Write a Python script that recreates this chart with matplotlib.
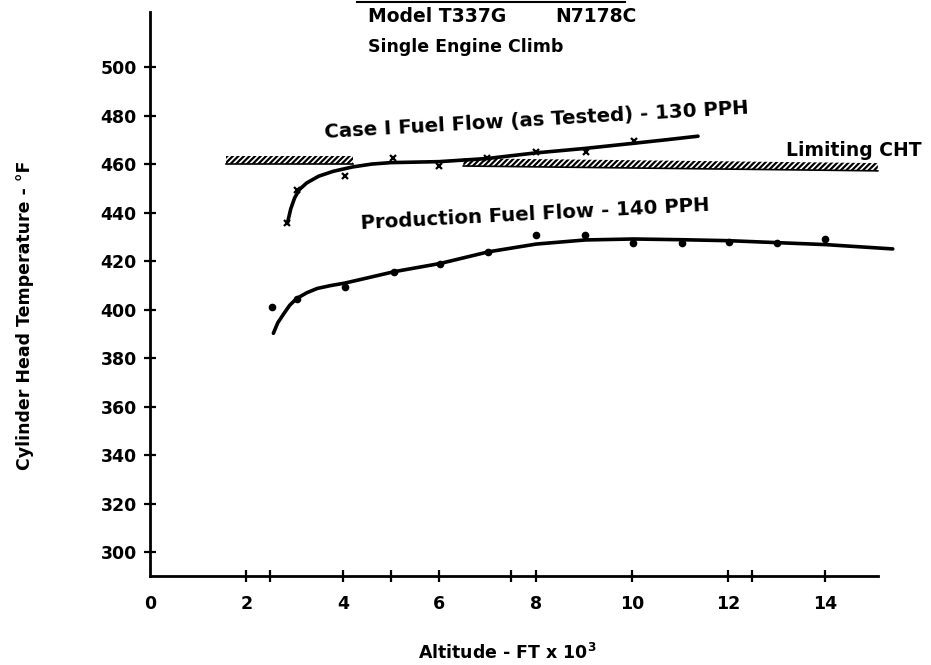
import matplotlib
matplotlib.use("Agg")
import matplotlib.pyplot as plt
import numpy as np

# Case I fuel flow (as tested) - 130 PPH, test points (x markers)
case1_alt = [2.85, 3.05, 4.05, 5.05, 6.0, 7.0, 8.0, 9.05, 10.05]
case1_cht = [435.5, 449.5, 455, 462.5, 459, 462.5, 465, 465, 469.5]
# faired curve through the case I points
case1_fit_alt = [2.85, 2.92, 3.0, 3.1, 3.25, 3.5, 3.8, 4.2, 4.6, 5.0, 6.0, 7.0, 8.0, 9.0, 10.0, 10.7, 11.37]
case1_fit_cht = [435.5, 441.5, 446, 449.5, 452.2, 455, 457, 458.8, 460, 460.6, 461, 462.3, 464.6, 466.4, 468.5, 470, 471.5]

# Production fuel flow - 140 PPH, test points (dots)
prod_alt = [2.54, 3.04, 4.04, 5.06, 6.02, 7.02, 8.01, 9.03, 10.03, 11.03, 12.01, 13.0, 14.0]
prod_cht = [401, 404.5, 409.4, 415.6, 418.6, 423.8, 430.7, 430.7, 427.5, 427.5, 428, 427.5, 429]
# faired curve
prod_fit_alt = [2.56, 2.65, 2.78, 2.9, 3.04, 3.25, 3.47, 3.75, 4.04, 4.5, 5.06, 6.02, 7.02, 8.01, 9.03, 10.03, 11.03, 12.01, 13.0, 14.0, 15.41]
prod_fit_cht = [390.2, 394.5, 398.4, 401.8, 404.5, 406.9, 408.7, 409.9, 410.9, 413, 415.6, 419, 423.8, 427, 428.7, 429.1, 428.8, 428.4, 427.6, 426.8, 425]

# limiting CHT hatched bars (two pieces)
lim1_alt = [1.57, 4.22]
lim1_cht = [460.0, 460.0]
lim2_alt = [6.5, 15.1]
lim2_cht = [459.2, 457.2]

yticks = [300, 320, 340, 360, 380, 400, 420, 440, 460, 480, 500]
xticks = [0, 2, 4, 6, 8, 10, 12, 14]
xminor = [2.5, 5, 7.5, 12.5]

plt.rcParams['font.family'] = ['DejaVu Sans']
plt.rcParams['font.weight'] = 'bold'
plt.rcParams['hatch.linewidth'] = 1.6

fig = plt.figure(figsize=(9.31, 6.65), dpi=100)
ax = fig.add_axes([0.1611, 0.1338, 0.7999, 0.8481])
ax.set_xlim(0, 15.45)
ax.set_ylim(290.1, 522.7)

ax.spines['top'].set_visible(False)
ax.spines['right'].set_visible(False)
ax.spines['left'].set_linewidth(2)
ax.spines['bottom'].set_linewidth(2)
ax.spines['bottom'].set_bounds(0, 15.1)

ax.set_yticks(yticks)
ax.set_xticks(xticks)
ax.set_xticks(xminor, minor=True)
ax.tick_params(axis='both', which='both', direction='inout', width=1.6, labelsize=12.5)
ax.tick_params(axis='y', length=9, pad=5)
ax.tick_params(axis='x', which='major', length=9, pad=9)
ax.tick_params(axis='x', which='minor', length=9)
ax.xaxis.get_major_ticks()[0].tick1line.set_visible(False)
for lab in ax.get_xticklabels() + ax.get_yticklabels():
    lab.set_fontweight('bold')

# limiting CHT hatch
for la, lc in [(lim1_alt, lim1_cht), (lim2_alt, lim2_cht)]:
    lc = np.array(lc)
    ax.fill_between(la, lc, lc + 3.2, facecolor='none', edgecolor='black',
                    hatch='//////', linewidth=0)
    ax.plot(la, lc, color='black', lw=1.2)

ax.plot(case1_fit_alt, case1_fit_cht, color='black', lw=2.6, solid_capstyle='round')
ax.plot(case1_alt, case1_cht, 'x', color='black', ms=5, mew=1.6)
ax.plot(prod_fit_alt, prod_fit_cht, color='black', lw=2.6, solid_capstyle='round', clip_on=False)
ax.plot(prod_alt, prod_cht, 'o', color='black', ms=4.5)

ax.text(8.02, 477.9, 'Case I Fuel Flow (as Tested) - 130 PPH', fontsize=14.2,
        fontweight='bold', rotation=3.3, ha='center', va='center')
ax.text(7.99, 439.4, 'Production Fuel Flow - 140 PPH', fontsize=14.2,
        fontweight='bold', rotation=3, ha='center', va='center')
ax.text(14.6, 465.8, 'Limiting CHT', fontsize=13.5, fontweight='bold',
        ha='center', va='center')

fig.text(368 / 931, 1 - 17 / 665, 'Model T337G', fontsize=13.5, fontweight='bold',
         ha='left', va='center')
fig.text(555 / 931, 1 - 17 / 665, 'N7178C', fontsize=13.5, fontweight='bold',
         ha='left', va='center')
fig.text(368 / 931, 1 - 47 / 665, 'Single Engine Climb', fontsize=12.5,
         fontweight='bold', ha='left', va='center')
fig.add_artist(plt.Line2D([357 / 931, 625 / 931], [1 - 2 / 665, 1 - 2 / 665],
                          color='black', lw=1.5))

fig.text(25 / 931, 1 - 315 / 665, 'Cylinder Head Temperature - °F', fontsize=12.5,
         fontweight='bold', rotation=90, ha='center', va='center')
fig.text(507 / 931, 1 - 653 / 665, 'Altitude - FT x 10$^\\mathbf{3}$', fontsize=12.5,
         fontweight='bold', ha='center', va='center')

fig.savefig('out.png', dpi=100)
